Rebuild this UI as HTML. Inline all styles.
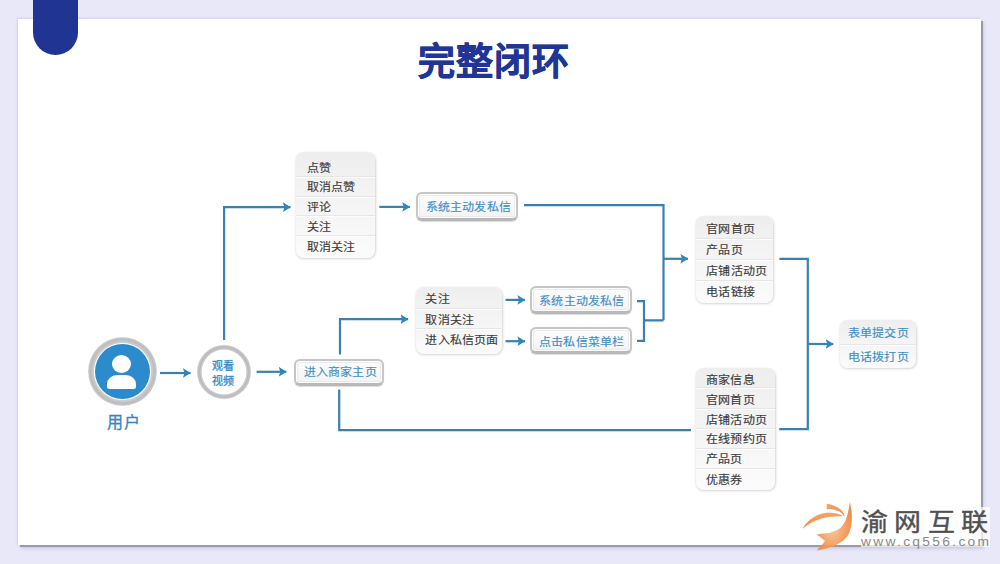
<!DOCTYPE html>
<html lang="zh-CN">
<head>
<meta charset="utf-8">
<style>
*{margin:0;padding:0;box-sizing:border-box}
html,body{width:1000px;height:564px;overflow:hidden}
body{background:#e8e8f9;font-family:"Liberation Sans",sans-serif;position:relative}
.panel{position:absolute;left:18px;top:19px;width:963px;height:526px;background:#fff;box-shadow:2px 2px 0.6px #9a98aa,3px 4px 3px rgba(150,150,185,.3),-1px -1px 2px rgba(160,150,200,.3)}
.tab{position:absolute;left:33px;top:0;width:45px;height:55px;background:#203593;border-radius:0 0 22.5px 22.5px}
.title{position:absolute;left:418px;top:39px;font-size:37px;font-weight:bold;color:#213596;letter-spacing:1px;-webkit-text-stroke:0.7px #213596;line-height:48px;white-space:nowrap}
.abs{position:absolute}
.list{position:absolute;border-radius:8px;background:linear-gradient(#eeeeef,#fbfbfb);box-shadow:0.5px 1px 2.5px rgba(0,0,0,.16),0 0 1px rgba(0,0,0,.1)}
.list b{position:absolute;font-weight:normal;font-size:12px;line-height:14px;white-space:nowrap;transform:scaleY(0.9);letter-spacing:0.2px;-webkit-text-stroke:0.15px currentColor}
.list i{position:absolute;left:0;right:0;height:1px;background:#e6e6e6;box-shadow:0 1px 0 #fdfdfd}
.btn{position:absolute;border:2.5px solid #c6c6c6;border-bottom:3px solid #b8b8b8;border-radius:6px;background:linear-gradient(#fdfdfd,#f3f3f3);box-shadow:0 0.5px 1px rgba(0,0,0,.15),inset 0 0 0 1px #fff,inset 0 0 0 2px #ebebeb}
.bt{position:absolute;font-size:12px;line-height:14px;transform:scaleY(0.9);letter-spacing:0.2px;color:#3d8ec6;white-space:nowrap;-webkit-text-stroke:0.15px #3d8ec6}
.t{position:absolute;white-space:nowrap}
</style>
</head>
<body>
<div class="panel"></div>
<div class="tab"></div>
<div class="title">完整闭环</div>

<svg class="abs" style="left:0;top:0" width="1000" height="564" viewBox="0 0 1000 564">
<defs>
<marker id="ah" markerWidth="9" markerHeight="11" refX="7.6" refY="5" orient="auto" markerUnits="userSpaceOnUse">
<path d="M0,0.1 L7.8,5 L0,9.9 L1.6,5 Z" fill="#2c86c0"/>
</marker>
</defs>
<g stroke="#3881b0" stroke-width="2.2" fill="none">
<path d="M160,373 H190.5" marker-end="url(#ah)"/>
<path d="M256.6,371.8 H286.3" marker-end="url(#ah)"/>
<path d="M224.1,340 V207.2 H290.5" marker-end="url(#ah)"/>
<path d="M340,354.5 V319.2 H408.1" marker-end="url(#ah)"/>
<path d="M339.2,389.5 V430.2 H691"/>
<path d="M379.3,206.9 H409.8" marker-end="url(#ah)"/>
<path d="M524,205.2 H663.5 V320.3"/>
<path d="M505.5,299.9 H525" marker-end="url(#ah)"/>
<path d="M505.5,341.2 H525" marker-end="url(#ah)"/>
<path d="M637,301.1 H644 V340.9 H637 M644,320.3 H663.5"/>
<path d="M663.5,258.8 H688" marker-end="url(#ah)"/>
<path d="M779.4,258.9 H807.8 V429.2 H779.2"/>
<path d="M807.8,344 H833.3" marker-end="url(#ah)"/>
</g>
</svg>

<!-- user circle -->
<div class="abs" style="left:87.5px;top:336.5px;width:69px;height:69px;border-radius:50%;background:radial-gradient(circle closest-side,#fff 0,#fff 81%,#d0d0d0 84%,#bcbcbc 92%,#c6c6c6 97%,#dadada 100%)"></div>
<div class="abs" style="left:94.5px;top:343.5px;width:55px;height:55px;border-radius:50%;background:#2c8bcc"></div>
<div class="abs" style="left:112px;top:355.4px;width:18.8px;height:18px;border-radius:50%;background:#fff"></div>
<div class="abs" style="left:107.2px;top:374.6px;width:29.1px;height:14.2px;border-radius:10px 10px 2.5px 2.5px/9px 9px 2.5px 2.5px;background:#fff"></div>
<div class="t" style="left:106.8px;top:412.8px;font-size:16px;line-height:20px;color:#3585c0;letter-spacing:1.2px;-webkit-text-stroke:0.3px #3585c0">用户</div>

<!-- watch circle -->
<div class="abs" style="left:197.2px;top:344.8px;width:53.8px;height:53.8px;border-radius:50%;background:radial-gradient(circle closest-side,#fff 0,#fff 81%,#d0d0d0 84%,#bababa 90%,#c0c0c0 95%,#d6d6d6 100%)"></div>
<div class="t" style="left:212px;top:358.8px;font-size:11px;line-height:14.7px;color:#3a8ac8;-webkit-text-stroke:0.3px #3a8ac8">观看<br>视频</div>

<div class="list" style="left:296.3px;top:152.3px;width:79.2px;height:105.7px">
<i class="sep" style="top:23.8px"></i>
<i class="sep" style="top:43.5px"></i>
<i class="sep" style="top:63.2px"></i>
<i class="sep" style="top:82.8px"></i>
<b style="top:8.70px;left:10.6px;color:#3b3b3b">点赞</b>
<b style="top:27.70px;left:10.6px;color:#3b3b3b">取消点赞</b>
<b style="top:47.70px;left:10.6px;color:#3b3b3b">评论</b>
<b style="top:67.70px;left:10.6px;color:#3b3b3b">关注</b>
<b style="top:87.70px;left:10.6px;color:#3b3b3b">取消关注</b>
</div>
<div class="btn" style="left:416px;top:192px;width:102.0px;height:28.8px"></div><div class="bt" style="left:425.7px;top:200px">系统主动发私信</div>
<div class="btn" style="left:294px;top:358.5px;width:89.8px;height:27.5px"></div><div class="bt" style="left:303.6px;top:365px">进入商家主页</div>
<div class="list" style="left:416px;top:287.2px;width:86.0px;height:66.4px">
<i class="sep" style="top:21.3px"></i>
<i class="sep" style="top:41.3px"></i>
<b style="top:4.80px;left:9.4px;color:#3b3b3b">关注</b>
<b style="top:25.80px;left:9.4px;color:#3b3b3b">取消关注</b>
<b style="top:45.80px;left:9.4px;color:#3b3b3b">进入私信页面</b>
</div>
<div class="btn" style="left:529.6px;top:286px;width:102.9px;height:28.3px"></div><div class="bt" style="left:539.2px;top:294px">系统主动发私信</div>
<div class="btn" style="left:529.6px;top:326.8px;width:102.9px;height:26.8px"></div><div class="bt" style="left:539.0px;top:335px">点击私信菜单栏</div>
<div class="list" style="left:696.2px;top:216.2px;width:77.1px;height:86.8px">
<i class="sep" style="top:21.8px"></i>
<i class="sep" style="top:42.7px"></i>
<i class="sep" style="top:63.5px"></i>
<b style="top:5.80px;left:10.1px;color:#3b3b3b">官网首页</b>
<b style="top:26.80px;left:10.1px;color:#3b3b3b">产品页</b>
<b style="top:47.80px;left:10.1px;color:#3b3b3b">店铺活动页</b>
<b style="top:68.80px;left:10.1px;color:#3b3b3b">电话链接</b>
</div>
<div class="list" style="left:696px;top:367.5px;width:79.0px;height:122.0px">
<i class="sep" style="top:19.2px"></i>
<i class="sep" style="top:40.0px"></i>
<i class="sep" style="top:60.3px"></i>
<i class="sep" style="top:80.0px"></i>
<i class="sep" style="top:100.6px"></i>
<b style="top:5.50px;left:10.0px;color:#3b3b3b">商家信息</b>
<b style="top:25.50px;left:10.0px;color:#3b3b3b">官网首页</b>
<b style="top:45.50px;left:10.0px;color:#3b3b3b">店铺活动页</b>
<b style="top:64.50px;left:10.0px;color:#3b3b3b">在线预约页</b>
<b style="top:84.50px;left:10.0px;color:#3b3b3b">产品页</b>
<b style="top:105.50px;left:10.0px;color:#3b3b3b">优惠券</b>
</div>
<div class="list" style="left:839.8px;top:320.3px;width:76.1px;height:47.9px">
<i class="sep" style="top:23.5px"></i>
<b style="top:5.70px;left:8.0px;color:#3d8ec6">表单提交页</b>
<b style="top:29.70px;left:8.0px;color:#3d8ec6">电话拨打页</b>
</div>

<!-- logo -->
<div class="abs" style="left:861px;top:507px;width:129px;height:40px;background:rgba(255,255,255,.72)"></div>
<svg class="abs" style="left:795px;top:495px" width="70" height="65" viewBox="0 0 70 65">
<defs>
<linearGradient id="og" x1="0" y1="0" x2="0.3" y2="1"><stop offset="0" stop-color="#f7a86a"/><stop offset="1" stop-color="#f08a45"/></linearGradient>
<radialGradient id="og2" cx="0.45" cy="0.55" r="0.6"><stop offset="0" stop-color="#f9c49a"/><stop offset="0.6" stop-color="#f49a58"/><stop offset="1" stop-color="#ee8440"/></radialGradient>
</defs>
<path d="M54.8,7 C57.5,17 57.8,29 54.2,38 C50.5,46 40,53 21.9,55.4 C25,52 28,49 30,46.1 C27,43 24,41 21.3,39.8 C26,38.5 31,38.5 34.6,38 C40,36 44,34.5 46.1,32.3 C51,27 53,20 54.8,7 Z" fill="url(#og2)" fill-opacity=".93"/>
<path d="M7.5,34 C11,27 19,19.5 30,18 C38,17.2 45,19 48.4,21.3 C42,20.9 33,21.6 26.5,23.6 C19,26 12,30 7.5,34 Z" fill="url(#og)"/>
<path d="M31.7,8.7 C38,9.5 44,12 47,16 C48.5,18 49.3,20 49.6,21.9 C47,18 44.5,16 42.7,16.1 C39,14 35,13.5 31.7,14.4 Z" fill="url(#og)"/>
</svg>
<div class="t" id="lg" style="left:861px;top:507.2px;font-size:25px;color:#505050;letter-spacing:6px;line-height:30px;-webkit-text-stroke:0.4px #505050;transform:scaleX(1.08);transform-origin:0 0">渝网互联</div>
<div class="t" style="left:861px;top:535px;font-size:12px;color:#888;letter-spacing:2px;line-height:14px;transform:scaleX(1.15);transform-origin:0 0">www.cq556.com</div>
</body>
</html>
